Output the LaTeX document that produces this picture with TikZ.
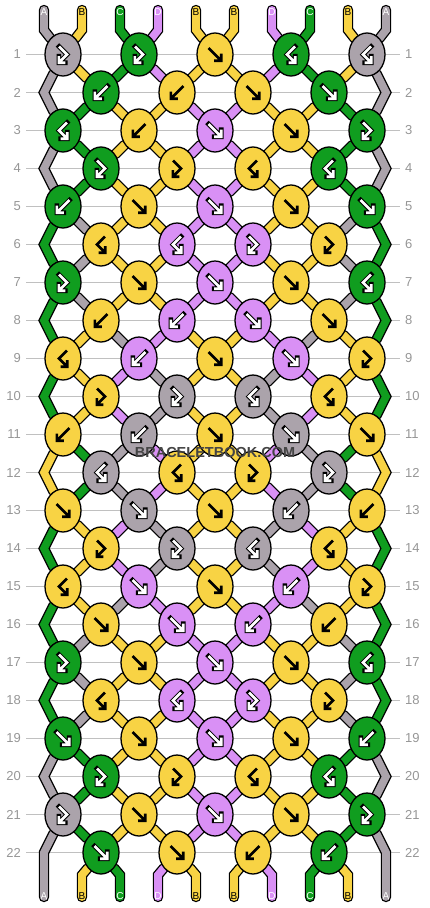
\documentclass[tikz,border=0pt]{standalone}
\usepackage{fontspec}
\setmainfont{Liberation Sans}
\usetikzlibrary{shapes.geometric}

\definecolor{cA}{RGB}{171,163,171}
\definecolor{cB}{RGB}{248,211,68}
\definecolor{cC}{RGB}{16,157,31}
\definecolor{cD}{RGB}{217,144,245}
% arrow / letter colour and arrow outline colour per thread
\colorlet{aA}{white}\colorlet{aB}{black}\colorlet{aC}{white}\colorlet{aD}{white}
\colorlet{oA}{black}\colorlet{oB}{cB}\colorlet{oC}{black}\colorlet{oD}{black}
\definecolor{rowgray}{RGB}{192,192,192}
\definecolor{numgray}{RGB}{150,150,150}
\definecolor{wmgray}{RGB}{68,68,68}

\pgfdeclarelayer{grid}
\pgfdeclarelayer{threads}
\pgfsetlayers{grid,threads,main}

% knot icons round the knot centre (y points down)
\newcommand\iconf{(-6.5,-6.5) -- (5,5) (6.2,-0.8) -- (6.2,6.2) -- (-0.8,6.2)}
\newcommand\iconb{(6.5,-6.5) -- (-5,5) (-6.2,-0.8) -- (-6.2,6.2) -- (0.8,6.2)}
\newcommand\iconfb{(-4,-8) -- (4,0) -- (-3.2,7.2) (-4.2,1.6) -- (-4.2,8.2) -- (2.4,8.2)}
\newcommand\iconbf{(4,-8) -- (-4,0) -- (3.2,7.2) (4.2,1.6) -- (4.2,8.2) -- (-2.4,8.2)}

\tikzset{
  knot/.style={ellipse, draw=black, line width=1.3pt, minimum width=36pt,
    minimum height=43pt, inner sep=0pt},
  thread/.style={line cap=round, line join=miter},
  strout/.style={draw=black, line width=10.4pt},
  strin/.style={line width=7.8pt},
  icon/.style={line width=2.6pt, line cap=butt, line join=miter},
  iconout/.style={line width=4.6pt, line cap=rect},
  rownum/.style={text=numgray, font=\fontsize{13}{13}\selectfont, inner sep=0pt},
  rowline/.style={draw=rowgray, line width=1.2pt},
  lbl/.style={font=\fontsize{10}{10}\selectfont, inner sep=0pt},
  wm/.style={font=\bfseries\fontsize{14.5}{14.5}\selectfont, inner sep=0pt}
}

\begin{document}
\begin{tikzpicture}[x=1pt, y=-1pt]
\useasboundingbox (0,0) rectangle (430,908);

% row numbers and guide lines
\foreach \r in {1,...,22}{
  \node[rownum, anchor=east] (nl-\r) at (21,{54.5+38*(\r-1)}) {\r};
  \node[rownum, anchor=west] (nr-\r) at (405,{54.5+38*(\r-1)}) {\r};
  \begin{pgfonlayer}{grid}
    \draw[rowline, shorten <=5pt, shorten >=5pt] (nl-\r) -- (nr-\r);
  \end{pgfonlayer}
}
\foreach \r in {2,4,...,22}{
  \coordinate (e-\r-L) at (44,{54.5+38*(\r-1)});
  \coordinate (e-\r-R) at (386,{54.5+38*(\r-1)});
}

% thread ends with their letters
\foreach \cl [count=\p] in {A,B,C,D,B,B,D,C,B,A}{
  \coordinate (t-\p) at ({44+38*(\p-1)},10);
  \coordinate (b-\p) at ({44+38*(\p-1)},897);
  \node[lbl, text=a\cl] (lt-\p) at ({44+38*(\p-1)},12.5) {\cl};
  \node[lbl, text=a\cl] (lb-\p) at ({44+38*(\p-1)},896) {\cl};
}

% knots: colour/type
\foreach \r/\row in {
  1/{A/fb,C/fb,B/f,C/bf,A/bf},
  2/{C/b,B/b,B/f,C/f},
  3/{C/bf,B/b,D/f,B/f,C/fb},
  4/{C/fb,B/fb,B/bf,C/bf},
  5/{C/b,B/f,D/f,B/f,C/f},
  6/{B/bf,D/bf,D/fb,B/fb},
  7/{C/fb,B/f,D/f,B/f,C/bf},
  8/{B/b,D/b,D/f,B/f},
  9/{B/bf,D/b,B/f,D/f,B/fb},
  10/{B/fb,A/fb,A/bf,B/bf},
  11/{B/b,A/b,B/f,A/f,B/f},
  12/{A/bf,B/bf,B/fb,A/fb},
  13/{B/f,A/f,B/f,A/b,B/b},
  14/{B/fb,A/fb,A/bf,B/bf},
  15/{B/bf,D/f,B/f,D/b,B/fb},
  16/{B/f,D/f,D/b,B/b},
  17/{C/fb,B/f,D/f,B/f,C/bf},
  18/{B/bf,D/bf,D/fb,B/fb},
  19/{C/f,B/f,D/f,B/f,C/b},
  20/{C/fb,B/fb,B/bf,C/bf},
  21/{A/fb,B/f,D/f,B/f,C/fb},
  22/{C/f,B/f,B/b,C/b}}{
  \pgfmathtruncatemacro\cz{1-mod(\r,2)}
  \foreach \cl/\tp [count=\i from 0] in \row {
    \pgfmathtruncatemacro\c{\cz+2*\i}
    \node[knot, fill=c\cl] (k-\r-\c) at ({63+38*\c},{54.5+38*(\r-1)}) {};
    \expandafter\let\expandafter\knoticon\csname icon\tp\endcsname
    \draw[icon, iconout, draw=o\cl, shift={(k-\r-\c.center)}] \knoticon;
    \draw[icon, draw=a\cl, shift={(k-\r-\c.center)}] \knoticon;
  }
}

% threads: outline first, then colour
\begin{pgfonlayer}{threads}
\foreach \sty in {strout,strin}{
  \foreach \cl [count=\p] in {A,B,C,D,B,B,D,C,B,A}{
    \pgfmathtruncatemacro\ca{2*floor((\p-1)/2)}
    \draw[thread, draw=c\cl, \sty] (t-\p) -- ++(0,20) -- (k-1-\ca);
  }
  % colours of the threads below each row
  \foreach \r/\str in {
    1/{A,B,C,D,B,B,D,C,B,A},
    2/{A,C,B,B,D,D,B,B,C,A},
    3/{A,C,B,B,D,D,B,B,C,A},
    4/{A,C,B,B,D,D,B,B,C,A},
    5/{C,A,B,B,D,D,B,B,A,C},
    6/{C,A,B,B,D,D,B,B,A,C},
    7/{C,A,B,B,D,D,B,B,A,C},
    8/{C,B,A,D,B,B,D,A,B,C},
    9/{C,B,D,A,B,B,A,D,B,C},
    10/{C,B,D,A,B,B,A,D,B,C},
    11/{B,C,A,D,B,B,D,A,C,B},
    12/{B,C,A,D,B,B,D,A,C,B},
    13/{C,B,D,A,B,B,A,D,B,C},
    14/{C,B,D,A,B,B,A,D,B,C},
    15/{C,B,A,D,B,B,D,A,B,C},
    16/{C,A,B,B,D,D,B,B,A,C},
    17/{C,A,B,B,D,D,B,B,A,C},
    18/{C,A,B,B,D,D,B,B,A,C},
    19/{A,C,B,B,D,D,B,B,C,A},
    20/{A,C,B,B,D,D,B,B,C,A},
    21/{A,C,B,B,D,D,B,B,C,A}}{
    \pgfmathtruncatemacro\rnext{\r+1}
    \pgfmathtruncatemacro\rskip{\r+2}
    \foreach \cl [count=\p] in \str {
      \pgfmathtruncatemacro\ca{2*floor((\p-1)/2)}
      \pgfmathtruncatemacro\cb{2*floor(\p/2)-1}
      \ifnum\p=1
        \ifodd\r\ifnum\r<21
          \draw[thread, draw=c\cl, \sty] (k-\r-0) -- (e-\rnext-L) -- (k-\rskip-0);
        \fi\fi
      \else\ifnum\p=10
        \ifodd\r\ifnum\r<21
          \draw[thread, draw=c\cl, \sty] (k-\r-8) -- (e-\rnext-R) -- (k-\rskip-8);
        \fi\fi
      \else
        \ifodd\r
          \draw[thread, draw=c\cl, \sty] (k-\r-\ca) -- (k-\rnext-\cb);
        \else
          \draw[thread, draw=c\cl, \sty] (k-\r-\cb) -- (k-\rnext-\ca);
        \fi
      \fi\fi
    }
  }
  \foreach \cl [count=\p] in {A,B,C,D,B,B,D,C,B,A}{
    \pgfmathtruncatemacro\cb{2*floor(\p/2)-1}
    \ifnum\p=1
      \draw[thread, draw=c\cl, \sty] (k-21-0) -- (e-22-L) -- (b-1);
    \else\ifnum\p=10
      \draw[thread, draw=c\cl, \sty] (k-21-8) -- (e-22-R) -- (b-10);
    \else
      \draw[thread, draw=c\cl, \sty] (k-22-\cb) -- ([yshift=22pt]b-\p) -- (b-\p);
    \fi\fi
  }
}
\end{pgfonlayer}

% watermark
\node[wm, text=wmgray] (wm) at (215,453) {BRACELETBOOK.COM};
\end{tikzpicture}
\end{document}
